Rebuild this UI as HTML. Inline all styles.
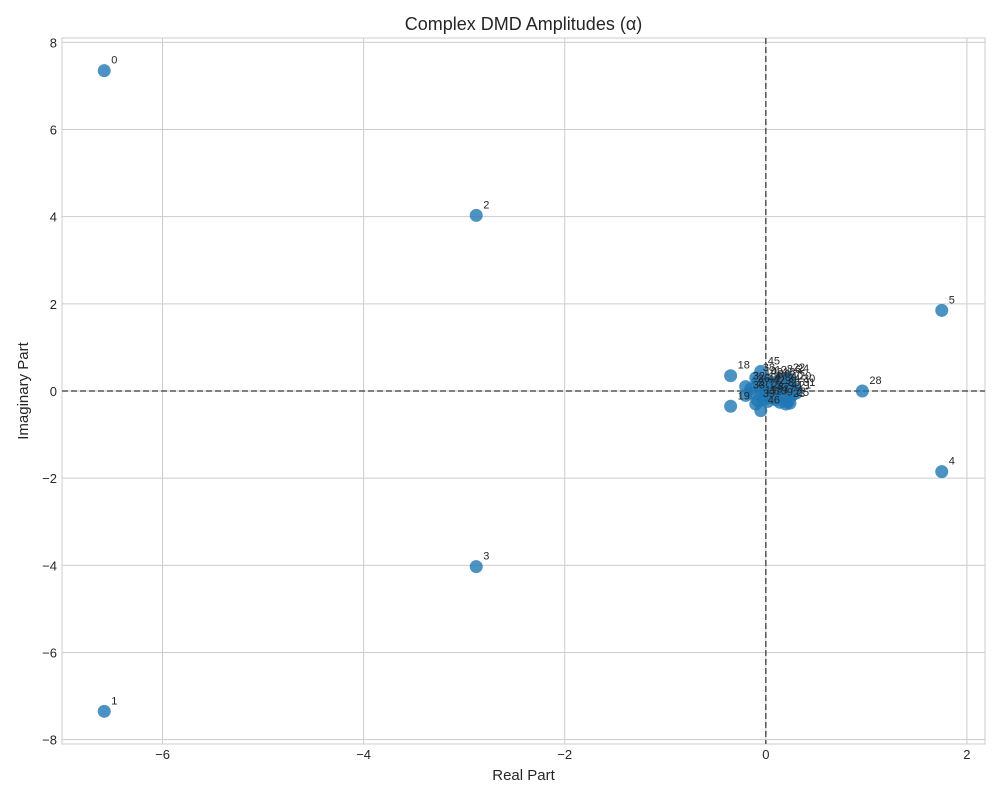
<!DOCTYPE html>
<html><head><meta charset="utf-8"><style>
body{margin:0;background:#fff;font-family:"Liberation Sans","DejaVu Sans",sans-serif}
</style></head><body>
<svg id="chart" width="1000" height="800" xmlns="http://www.w3.org/2000/svg"></svg>
<script>
const labels=[0,1,2,3,4,5,6,7,8,9,10,11,12,13,14,15,16,17,18,19,20,21,22,23,24,25,26,27,28,29,30,31,32,33,34,35,36,37,38,39,40,41,42,43,44,45,46,47];
const realVals=[-6.58,-6.58,-2.88,-2.88,1.75,1.75,0.22,0.22,0.14,0.14,-0.08,-0.08,0.02,0.02,-0.04,-0.04,0.1,0.1,-0.35,-0.35,0.26,0.26,0.2,0.2,0.24,0.24,-0.15,-0.15,0.96,0.06,0.3,0.3,-0.2,-0.2,0.15,0.15,0.05,0.05,-0.1,-0.1,0.18,0.18,-0.02,-0.02,-0.05,-0.05,-0.05,0.0];
const imagVals=[7.35,-7.35,4.03,-4.03,-1.85,1.85,0.25,-0.25,0.26,-0.26,0.22,-0.22,0.24,-0.24,0.1,-0.1,0.2,-0.2,0.35,-0.35,0.1,-0.1,0.3,-0.3,0.28,-0.28,0.05,-0.05,0.0,0.0,0.05,-0.05,0.1,-0.1,0.05,-0.05,0.15,-0.15,0.3,-0.3,0.1,-0.1,0.2,-0.2,0.05,0.45,-0.45,0.0];
const xTicks=[-6,-4,-2,0,2];
const yTicks=[-8,-6,-4,-2,0,2,4,6,8];
const NS="http://www.w3.org/2000/svg";
const svg=document.getElementById('chart');
const L=62,R=985,T=38,B=744;
const xmin=-7.0,xmax=2.18,ymin=-8.1,ymax=8.1;
const sx=v=>L+(v-xmin)/(xmax-xmin)*(R-L);
const sy=v=>B-(v-ymin)/(ymax-ymin)*(B-T);
function mk(t,a,txt){const e=document.createElementNS(NS,t);for(const k in a)e.setAttribute(k,a[k]);if(txt!==undefined)e.textContent=txt;svg.appendChild(e);return e;}
let e=mk('rect',{x:L,y:T,width:R-L,height:B-T,fill:'#fff',stroke:'#cccccc','stroke-width':1});


xTicks.forEach(t=>{
 let g=mk('line',{x1:sx(t),x2:sx(t),y1:T,y2:B,stroke:'#cccccc','stroke-width':1});
 
 
 let l=mk('text',{x:sx(t),y:B+15,'text-anchor':'middle','font-size':13,fill:'#262626'},(t<0?'\u2212'+(-t):t));
 
 
});
yTicks.forEach(t=>{
 let g=mk('line',{x1:L,x2:R,y1:sy(t),y2:sy(t),stroke:'#cccccc','stroke-width':1});
 
 
 let l=mk('text',{x:L-5,y:sy(t)+5,'text-anchor':'end','font-size':13,fill:'#262626'},(t<0?'\u2212'+(-t):t));
 
 
});
e=mk('line',{x1:sx(0),x2:sx(0),y1:T,y2:B,stroke:'#555','stroke-width':1.5,'stroke-dasharray':'6,3'});


e=mk('line',{x1:L,x2:R,y1:sy(0),y2:sy(0),stroke:'#555','stroke-width':1.5,'stroke-dasharray':'6,3'});


realVals.forEach((r,i)=>{
 let c=mk('circle',{cx:sx(r),cy:sy(imagVals[i]),r:6.5,fill:'#1f77b4','fill-opacity':0.8});
 
 
});
realVals.forEach((r,i)=>{
 let t=mk('text',{x:sx(r)+7,y:sy(imagVals[i])-7,'font-size':11,fill:'#262626'},labels[i]);
 
 
});
e=mk('text',{x:(L+R)/2,y:30,'text-anchor':'middle','font-size':18,fill:'#262626'},'Complex DMD Amplitudes (\u03b1)');


e=mk('text',{x:(L+R)/2,y:780,'text-anchor':'middle','font-size':15,fill:'#262626'},'Real Part');


e=mk('text',{x:28,y:(T+B)/2,'text-anchor':'middle','font-size':15,fill:'#262626',transform:'rotate(-90 28 '+(T+B)/2+')'},'Imaginary Part');


</script>
</body></html>
